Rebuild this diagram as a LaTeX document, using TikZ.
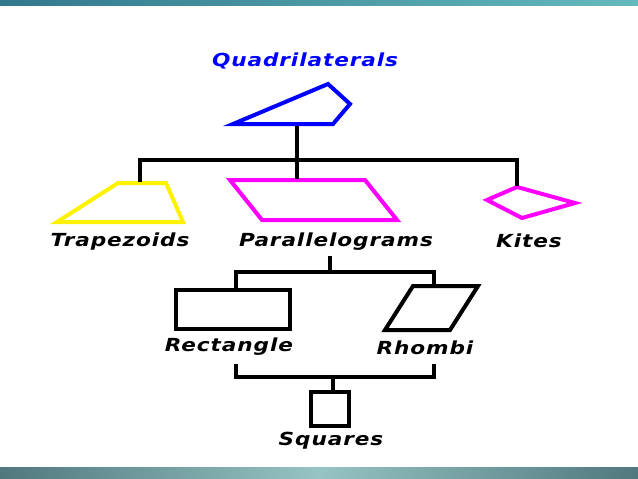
\documentclass[tikz,border=0pt]{standalone}
\usepackage{fontspec}
\setmainfont[LetterSpace=5,FakeStretch=1.2]{DejaVu Sans}
\tikzset{every picture/.style={line width=4pt}}
\tikzset{lbl/.style={font=\bfseries\itshape\fontsize{18}{20}\selectfont, inner sep=0pt}}
\definecolor{pinkish}{RGB}{255,0,255}
\begin{document}
\begin{tikzpicture}[x=1pt,y=1pt,yscale=-1]
\useasboundingbox (0,0) rectangle (638,479);
%Bars
\shade[left color={rgb,255:red,50;green,120;blue,140}, right color={rgb,255:red,100;green,185;blue,190}, line width=0pt] (0,0) rectangle (638,5);
\shade[left color={rgb,255:red,80;green,120;blue,125}, right color={rgb,255:red,80;green,120;blue,125}, middle color={rgb,255:red,150;green,195;blue,195}, line width=0pt] (0,467) rectangle (638,479);
%Labels
\node[lbl, blue] (quad) at (305,61) {Quadrilaterals};
\node[lbl] (trap) at (120,242) {Trapezoids};
\node[lbl] (para) at (336,242) {Parallelograms};
\node[lbl] (kite) at (529,241) {Kites};
\node[lbl] (rect) at (229,347) {Rectangle};
\node[lbl] (rhom) at (425,348) {Rhombi};
\node[lbl] (sq) at (331,441) {Squares};
%Shapes
\draw[blue] (233,124) -- (333,124) -- (350,104) -- (328,84) -- cycle;
\draw[yellow] (57,222) -- (183,222) -- (166,183) -- (118,183) -- cycle;
\draw[pinkish] (230,180) -- (365,180) -- (397,220) -- (262,220) -- cycle;
\draw[pinkish] (487,200) -- (517,187) -- (575,203) -- (522,218) -- cycle;
\draw (176,290) rectangle (290,329);
\draw (385,330) -- (450,330) -- (478,286) -- (413,286) -- cycle;
\draw (311,392) rectangle (349,426);
%Tree
\draw (297,126) -- (297,160);
\draw (140,182) -- (140,160) -- (517,160) -- (517,186);
\draw (297,160) -- (297,179);
\draw (330,256) -- (330,272);
\draw (236,290) -- (236,272) -- (434,272) -- (434,287);
\draw (236,364) -- (236,377) -- (434,377) -- (434,364);
\draw (333,377) -- (333,392);
\end{tikzpicture}
\end{document}
